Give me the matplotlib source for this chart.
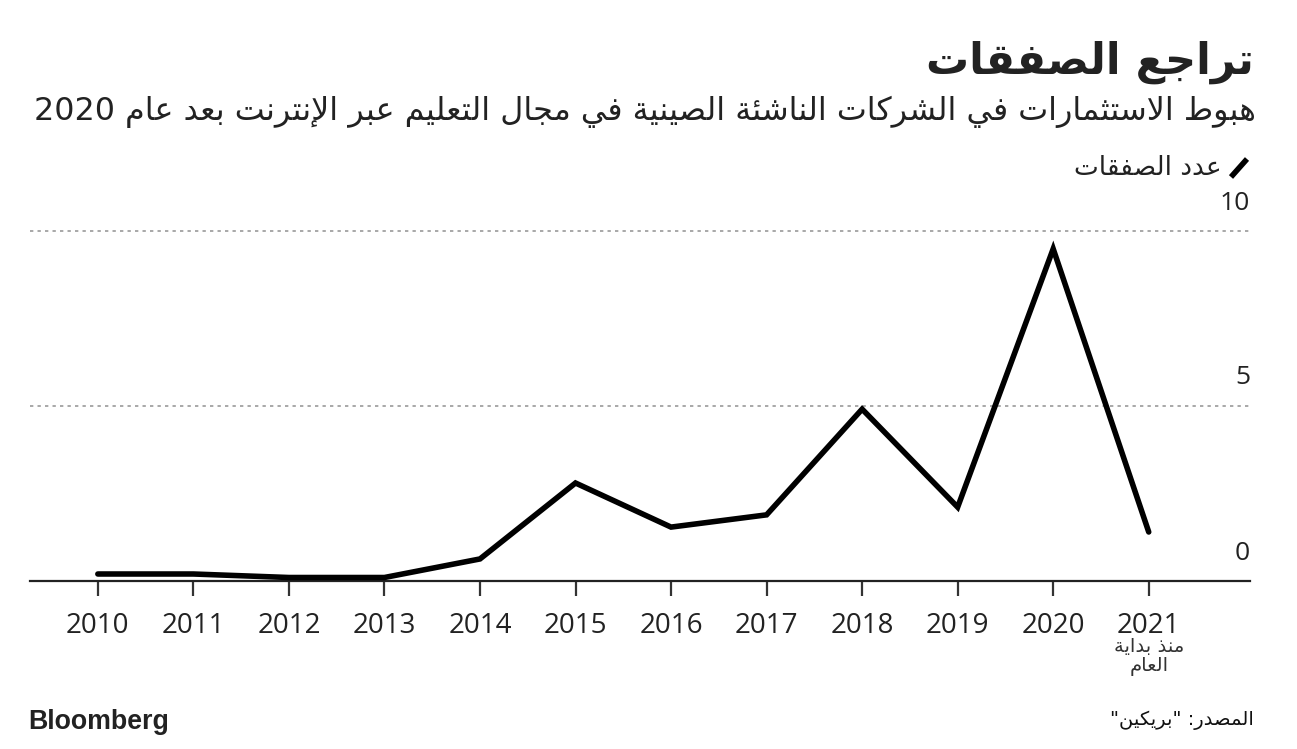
import re
import matplotlib
matplotlib.use('Agg')
import matplotlib.pyplot as plt
from matplotlib.lines import Line2D

# chart data
years = [2010, 2011, 2012, 2013, 2014, 2015, 2016, 2017, 2018, 2019, 2020, 2021]
deals = [0.2, 0.2, 0.1, 0.1, 0.63, 2.8, 1.54, 1.89, 4.91, 2.11, 9.49, 1.4]
y_ticks = [0, 5, 10]

title = 'تراجع الصفقات'
subtitle = 'هبوط الاستثمارات في الشركات الناشئة الصينية في مجال التعليم عبر الإنترنت بعد عام 2020'
legend_label = 'عدد الصفقات'
ytd_note = ['منذ بداية', 'العام']
source = 'المصدر: "بريكين"'

# --- tiny arabic shaper (matplotlib has no bidi / shaping) ---
RIGHT = {'آ': 0xFE81, 'أ': 0xFE83, 'ؤ': 0xFE85, 'إ': 0xFE87, 'ا': 0xFE8D, 'ة': 0xFE93,
         'د': 0xFEA9, 'ذ': 0xFEAB, 'ر': 0xFEAD, 'ز': 0xFEAF, 'و': 0xFEED, 'ى': 0xFEEF}
DUAL = {'ئ': 0xFE89, 'ب': 0xFE8F, 'ت': 0xFE95, 'ث': 0xFE99, 'ج': 0xFE9D, 'ح': 0xFEA1,
        'خ': 0xFEA5, 'س': 0xFEB1, 'ش': 0xFEB5, 'ص': 0xFEB9, 'ض': 0xFEBD, 'ط': 0xFEC1,
        'ظ': 0xFEC5, 'ع': 0xFEC9, 'غ': 0xFECD, 'ف': 0xFED1, 'ق': 0xFED5, 'ك': 0xFED9,
        'ل': 0xFEDD, 'م': 0xFEE1, 'ن': 0xFEE5, 'ه': 0xFEE9, 'ي': 0xFEF1}
LAM_ALEF = {'ا': 0xFEFB, 'أ': 0xFEF7, 'إ': 0xFEF9, 'آ': 0xFEF5}


def ar(text):
    out = []
    n = len(text)
    i = 0
    while i < n:
        c = text[i]
        prev_joins = i > 0 and text[i - 1] in DUAL
        nxt = text[i + 1] if i + 1 < n else ''
        if c == 'ل' and nxt in LAM_ALEF:
            out.append(chr(LAM_ALEF[nxt] + (1 if prev_joins else 0)))
            i += 2
            continue
        if c in DUAL:
            next_joins = nxt in DUAL or nxt in RIGHT
            form = {(False, False): 0, (True, False): 1, (False, True): 2, (True, True): 3}[(prev_joins, next_joins)]
            out.append(chr(DUAL[c] + form))
        elif c in RIGHT:
            out.append(chr(RIGHT[c] + (1 if prev_joins else 0)))
        elif c == 'ء':
            out.append('\uFE80')
        else:
            out.append(c)
        i += 1
    rev = ''.join(out)[::-1]
    # keep digits / latin runs left-to-right
    return re.sub(r'[0-9A-Za-z]+', lambda m: m.group(0)[::-1], rev)


W, H = 1297, 749
fig = plt.figure(figsize=(W / 100, H / 100), dpi=100)
fig.patch.set_facecolor('white')

def fx(px):
    return px / W

def fy(py):
    return 1 - py / H

text_col = '#222222'
AR = ['DejaVu Sans']
NUM = ['Open Sans', 'DejaVu Sans']

# axes: x from 30px to 1250px, y 0 at 581px, 10 at 231px
ymax = 10.5
top_px = 581 - ymax * 35
ax = fig.add_axes([fx(30), fy(581), fx(1250) - fx(30), (581 - top_px) / H])
ax.set_xlim(2009.29, 2022.06)
ax.set_ylim(0, ymax)

for v in y_ticks[1:]:
    ax.axhline(v, color='#9a9a9a', lw=1.2, ls=(0, (2, 2.5)), zorder=1)
ax.axhline(0, color='#222222', lw=1.6, zorder=2, clip_on=False)

ax.plot(years, deals, color='black', lw=4, solid_capstyle='round',
        solid_joinstyle='miter', zorder=3)

for s in ax.spines.values():
    s.set_visible(False)
ax.set_yticks([])
ax.set_xticks(years)
ax.set_xticklabels([str(y) for y in years], family=NUM, fontsize=20, color=text_col)
ax.tick_params(axis='x', length=11, width=1.6, color='#333333', pad=11)

# y labels sit above the gridlines at the right edge
for v in y_ticks:
    ax.annotate(str(v), xy=(1.0, v), xycoords=('axes fraction', 'data'),
                xytext=(0, 28), textcoords='offset pixels', ha='right', va='center',
                family=NUM, fontsize=19, color=text_col)

# note under 2021
ax.annotate(ar(ytd_note[0]) + '\n' + ar(ytd_note[1]), xy=(years[-1], 0),
            xycoords=('data', 'data'), xytext=(0, -56), textcoords='offset pixels',
            ha='center', va='top', family=AR, fontsize=14, color='#333333',
            linespacing=1.0)

# headings
fig.text(fx(1254), fy(62), ar(title), ha='right', va='center', family=AR,
         fontsize=31, fontweight='bold', color=text_col)
fig.text(fx(1256), fy(112), ar(subtitle), ha='right', va='center', family=AR,
         fontsize=22.9, color=text_col)

# legend
fig.text(fx(1222), fy(168), ar(legend_label), ha='right', va='center', family=AR,
         fontsize=19, color=text_col)
fig.add_artist(Line2D([fx(1231), fx(1247)], [fy(177), fy(159)], color='black',
                      lw=4, solid_capstyle='butt'))

# footer
fig.text(fx(28), fy(722), 'Bloomberg', ha='left', va='center', family=['Liberation Sans'],
         fontsize=19.3, fontweight='bold', color=text_col)
fig.text(fx(1254), fy(720), ar(source), ha='right', va='center', family=AR,
         fontsize=14, color='#111111')

fig.savefig('out.png', dpi=100, facecolor='white')
